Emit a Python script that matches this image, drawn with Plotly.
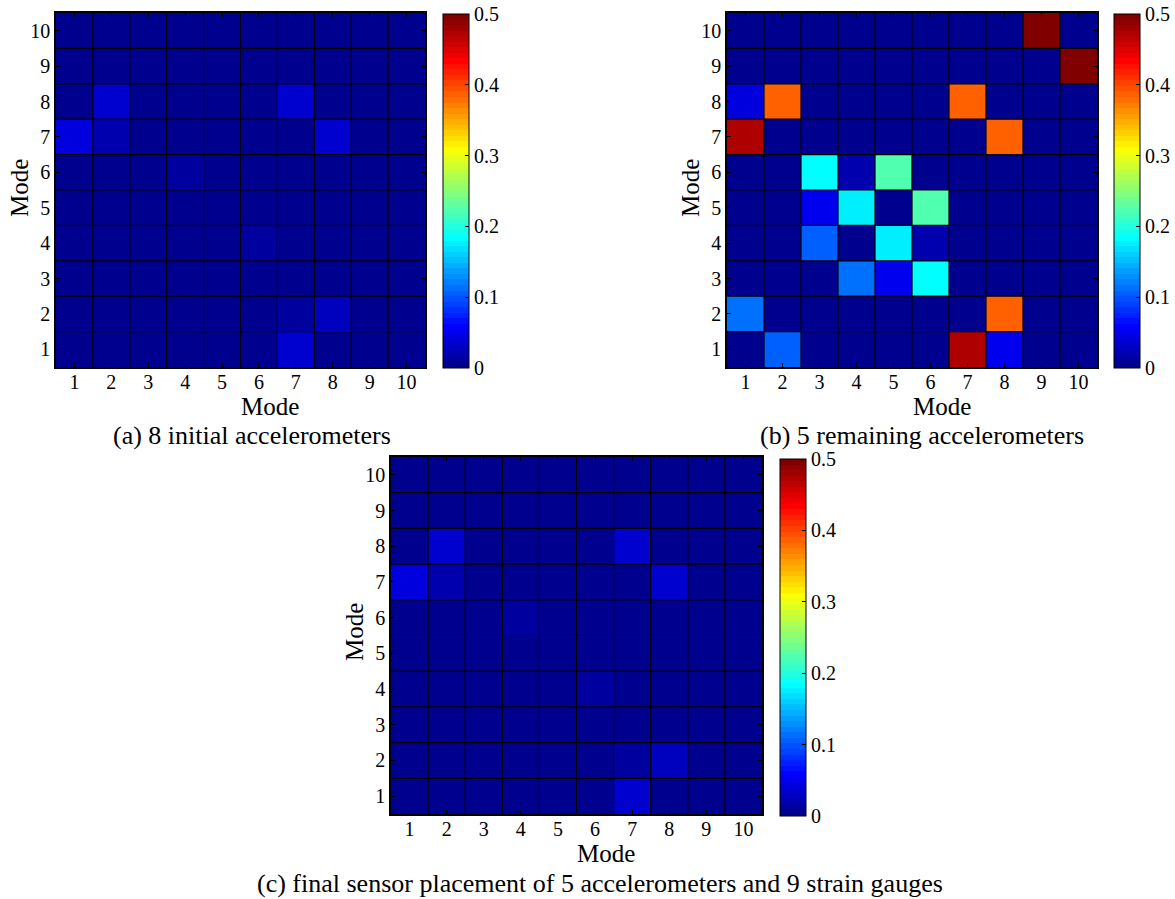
import math
import plotly.graph_objects as go

# ---------------- data ----------------
modes = [1, 2, 3, 4, 5, 6, 7, 8, 9, 10]
cbar_ticks = [0, 0.1, 0.2, 0.3, 0.4, 0.5]
cbar_ticktext = ["0", "0.1", "0.2", "0.3", "0.4", "0.5"]

# rows = Mode (y) 1..10, columns = Mode (x) 1..10
mac_a = [
    [0.003, 0.003, 0.003, 0.003, 0.003, 0.003, 0.038, 0.003, 0.003, 0.003],
    [0.003, 0.003, 0.003, 0.003, 0.003, 0.003, 0.012, 0.027, 0.003, 0.003],
    [0.003, 0.003, 0.003, 0.003, 0.003, 0.003, 0.003, 0.003, 0.003, 0.003],
    [0.003, 0.003, 0.003, 0.003, 0.003, 0.010, 0.003, 0.003, 0.003, 0.003],
    [0.003, 0.003, 0.003, 0.003, 0.003, 0.003, 0.003, 0.003, 0.003, 0.003],
    [0.003, 0.003, 0.003, 0.012, 0.003, 0.003, 0.003, 0.003, 0.003, 0.003],
    [0.043, 0.020, 0.003, 0.003, 0.003, 0.003, 0.003, 0.035, 0.003, 0.003],
    [0.003, 0.035, 0.003, 0.003, 0.003, 0.003, 0.035, 0.003, 0.003, 0.003],
    [0.003, 0.003, 0.003, 0.003, 0.003, 0.003, 0.003, 0.003, 0.003, 0.003],
    [0.003, 0.003, 0.003, 0.003, 0.003, 0.003, 0.003, 0.003, 0.003, 0.003],
]

mac_b = [
    [0.003, 0.106, 0.003, 0.003, 0.003, 0.003, 0.469, 0.050, 0.003, 0.003],
    [0.110, 0.003, 0.003, 0.003, 0.003, 0.003, 0.003, 0.389, 0.003, 0.003],
    [0.003, 0.003, 0.003, 0.111, 0.054, 0.185, 0.003, 0.003, 0.003, 0.003],
    [0.003, 0.003, 0.106, 0.003, 0.172, 0.022, 0.003, 0.003, 0.003, 0.003],
    [0.003, 0.003, 0.052, 0.172, 0.003, 0.221, 0.003, 0.003, 0.003, 0.003],
    [0.003, 0.003, 0.185, 0.021, 0.221, 0.003, 0.003, 0.003, 0.003, 0.003],
    [0.469, 0.003, 0.003, 0.003, 0.003, 0.003, 0.003, 0.389, 0.003, 0.003],
    [0.045, 0.389, 0.003, 0.003, 0.003, 0.003, 0.389, 0.003, 0.003, 0.003],
    [0.003, 0.003, 0.003, 0.003, 0.003, 0.003, 0.003, 0.003, 0.003, 0.500],
    [0.003, 0.003, 0.003, 0.003, 0.003, 0.003, 0.003, 0.003, 0.500, 0.003],
]

mac_c = [
    [0.003, 0.003, 0.003, 0.003, 0.003, 0.003, 0.037, 0.003, 0.003, 0.003],
    [0.003, 0.003, 0.003, 0.003, 0.003, 0.003, 0.012, 0.029, 0.003, 0.003],
    [0.003, 0.003, 0.003, 0.003, 0.003, 0.003, 0.003, 0.003, 0.003, 0.003],
    [0.003, 0.003, 0.003, 0.003, 0.003, 0.010, 0.003, 0.003, 0.003, 0.003],
    [0.003, 0.003, 0.003, 0.003, 0.003, 0.003, 0.003, 0.003, 0.003, 0.003],
    [0.003, 0.003, 0.003, 0.012, 0.003, 0.003, 0.003, 0.003, 0.003, 0.003],
    [0.042, 0.020, 0.003, 0.003, 0.003, 0.003, 0.003, 0.035, 0.003, 0.003],
    [0.003, 0.035, 0.003, 0.003, 0.003, 0.003, 0.035, 0.003, 0.003, 0.003],
    [0.003, 0.003, 0.003, 0.003, 0.003, 0.003, 0.003, 0.003, 0.003, 0.003],
    [0.003, 0.003, 0.003, 0.003, 0.003, 0.003, 0.003, 0.003, 0.003, 0.003],
]

captions = [
    "(a) 8 initial accelerometers",
    "(b) 5 remaining accelerometers",
    "(c) final sensor placement of 5 accelerometers and 9 strain gauges",
]
axis_title = "Mode"

# ---------------- style ----------------
W, H = 1175, 899
FONT = "Liberation Serif, Times New Roman, serif"


def jet(m=64):
    n = math.ceil(m / 4)
    u = [i / n for i in range(1, n + 1)] + [1.0] * (n - 1) + [i / n for i in range(n, 0, -1)]
    g0 = math.ceil(n / 2) - (1 if m % 4 == 1 else 0)
    J = [[0.0, 0.0, 0.0] for _ in range(m)]
    for k, val in enumerate(u, start=1):
        g = g0 + k
        r = g + n
        b = g - n
        if 1 <= r <= m:
            J[r - 1][0] = val
        if 1 <= g <= m:
            J[g - 1][1] = val
        if 1 <= b <= m:
            J[b - 1][2] = val
    return J


J = jet(64)
colorscale = []
for i, c in enumerate(J):
    col = "rgb(%d,%d,%d)" % tuple(round(v * 255) for v in c)
    colorscale.append([i / 64, col])
    colorscale.append([(i + 1) / 64, col])


def px_x(x):
    return x / W


def px_y(y):
    return 1 - y / H


panels = [
    # data, plot x0,x1,y0(top),y1(bottom), cbar x0, cbar top, cbar bottom
    (mac_a, 56, 425, 13, 367, 443, 14, 368),
    (mac_b, 727, 1097, 13, 367, 1114, 14, 368),
    (mac_c, 391, 762, 457, 814, 780, 459, 816),
]

fig = go.Figure()
layout_axes = {}
shapes = []
boundaries = [m + 0.5 for m in modes[:-1]]
for idx, (z, x0, x1, yt, yb, cx, ct, cb) in enumerate(panels, start=1):
    sfx = "" if idx == 1 else str(idx)
    fig.add_trace(go.Heatmap(
        z=z, x=modes, y=modes,
        zmin=0, zmax=0.5,
        colorscale=colorscale,
        xaxis="x" + sfx, yaxis="y" + sfx,
        hoverinfo="skip",
        colorbar=dict(
            x=px_x(cx), xanchor="left", xref="paper",
            y=px_y((ct + cb) / 2), yanchor="middle", yref="paper",
            len=(cb - ct) / H, lenmode="fraction",
            thickness=26, thicknessmode="pixels",
            xpad=0, ypad=0,
            outlinecolor="black", outlinewidth=1,
            ticks="inside", ticklen=4, tickcolor="black",
            tickvals=cbar_ticks, ticktext=cbar_ticktext,
            tickfont=dict(family=FONT, size=20, color="black"),
        ),
    ))
    common = dict(
        range=[0.5, 10.5], tickvals=modes, ticktext=[str(m) for m in modes],
        showgrid=False, zeroline=False, showline=True, linecolor="black",
        linewidth=1.5, mirror="ticks", ticks="inside", ticklen=4,
        tickcolor="black", tickfont=dict(family=FONT, size=20, color="black"),
        layer="above traces",
    )
    layout_axes["xaxis" + sfx] = dict(
        domain=[px_x(x0), px_x(x1)], anchor="y" + sfx, ticklabelstandoff=-4, **common)
    layout_axes["yaxis" + sfx] = dict(
        domain=[px_y(yb), px_y(yt)], anchor="x" + sfx, **common)
    # cell separator lines
    for bnd in boundaries:
        shapes.append(dict(type="line", xref="x" + sfx, yref="y" + sfx,
                           x0=bnd, x1=bnd, y0=0.5, y1=10.5,
                           line=dict(color="black", width=1.2), layer="above"))
        shapes.append(dict(type="line", xref="x" + sfx, yref="y" + sfx,
                           x0=0.5, x1=10.5, y0=bnd, y1=bnd,
                           line=dict(color="black", width=1.2), layer="above"))

fig.update_layout(**layout_axes)

annotations = []
# x-axis titles, captions, y-axis titles (pixel positions of text centres)
xt_pos = [(270, 406), (942, 406), (606, 853)]
cap_pos = [(252, 436), (922, 436), (600, 883)]
yt_pos = [(19, 188), (690, 188), (354, 632)]
for (xx, yy) in xt_pos:
    annotations.append(dict(text=axis_title, x=px_x(xx), y=px_y(yy), xref="paper", yref="paper",
                            showarrow=False, xanchor="center", yanchor="middle",
                            font=dict(family=FONT, size=25, color="black")))
for (xx, yy), cap in zip(cap_pos, captions):
    annotations.append(dict(text=cap, x=px_x(xx), y=px_y(yy), xref="paper", yref="paper",
                            showarrow=False, xanchor="center", yanchor="middle",
                            font=dict(family=FONT, size=26, color="black")))
for (xx, yy) in yt_pos:
    annotations.append(dict(text=axis_title, x=px_x(xx), y=px_y(yy), xref="paper", yref="paper",
                            showarrow=False, xanchor="center", yanchor="middle", textangle=-90,
                            font=dict(family=FONT, size=25, color="black")))

fig.update_layout(
    width=W, height=H,
    margin=dict(l=0, r=0, t=0, b=0),
    paper_bgcolor="white",
    plot_bgcolor="white",
    showlegend=False,
    annotations=annotations,
    shapes=shapes,
    font=dict(family=FONT, color="black"),
)

fig.write_html(
    "out.html",
    config={"displayModeBar": False},
    post_script="document.body.style.margin='0px';document.body.style.overflow='hidden';",
)
